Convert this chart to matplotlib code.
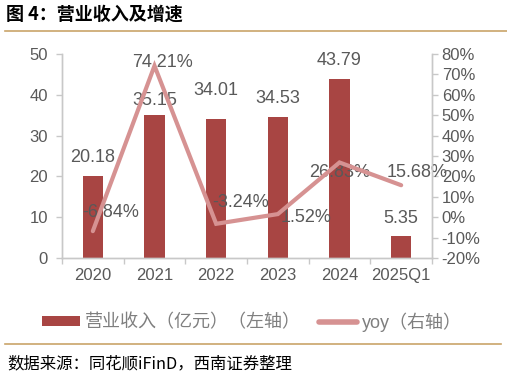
import matplotlib
matplotlib.use("Agg")
import matplotlib.pyplot as plt
from matplotlib.lines import Line2D
from matplotlib.patches import Patch

plt.rcParams['font.family'] = ['Liberation Sans', 'Noto Sans CJK SC', 'DejaVu Sans']

categories = ['2020', '2021', '2022', '2023', '2024', '2025Q1']
revenue = [20.18, 35.15, 34.01, 34.53, 43.79, 5.35]
yoy = [-6.84, 74.21, -3.24, 1.52, 26.83, 15.68]
left_ticks = [0, 10, 20, 30, 40, 50]
right_ticks = [-20, -10, 0, 10, 20, 30, 40, 50, 60, 70, 80]

# label offsets in pixels (dx, dy)
bar_label_off = [(0, 18), (0, 14), (0, 29), (0, 19), (0, 19), (0, 18)]
line_label_off = [(18, 19), (8, 3), (24, 21), (28, -3), (0, -10), (16, 13)]

BAR = '#A84543'
LINE = '#D69292'
TXT = '#595959'
SPINE = '#C8C8C8'

W, H = 507, 378
fig = plt.figure(figsize=(W / 100, H / 100), dpi=100)
ax = fig.add_axes([62 / W, 1 - 258 / H, (432 - 62) / W, (258 - 54) / H])
ax2 = ax.twinx()

x = list(range(len(categories)))
ax.bar(x, revenue, width=0.33, color=BAR, zorder=2)
ax.set_ylim(0, 50)
ax.set_xlim(-0.5, len(categories) - 0.5)
ax.set_yticks(left_ticks)
ax.set_xticks(x)
ax.set_xticklabels(categories)
ax.set_xticks([i - 0.5 for i in range(len(categories) + 1)], minor=True)

ax2.plot(x, yoy, color=LINE, lw=3, solid_capstyle='round', solid_joinstyle='miter', zorder=3)
ax2.set_ylim(-20, 80)
ax2.set_yticks(right_ticks)
ax2.set_yticklabels([f'{t}%' for t in right_ticks])

for a in (ax, ax2):
    a.spines['top'].set_visible(False)
    for s in ('left', 'right', 'bottom'):
        a.spines[s].set_color(SPINE)
        a.spines[s].set_linewidth(1)
    a.tick_params(colors=SPINE, labelcolor=TXT, labelsize=12, length=4, width=1)
ax.tick_params(axis='x', which='major', length=0, pad=7)
ax.tick_params(axis='x', which='minor', length=4, color=SPINE, width=1)
ax.tick_params(axis='y', pad=6)
ax2.tick_params(axis='y', pad=3)
ax.set_zorder(ax2.get_zorder() - 1)
ax2.patch.set_visible(False)

for i, v in enumerate(revenue):
    ax.annotate(f'{v:.2f}', (x[i], v), xytext=bar_label_off[i], textcoords='offset pixels',
                ha='center', va='center', fontsize=13, color=TXT, zorder=5)
for i, v in enumerate(yoy):
    ax2.annotate(f'{v:.2f}%', (x[i], v), xytext=line_label_off[i], textcoords='offset pixels',
                 ha='center', va='center', fontsize=13, color=TXT, zorder=2)

# title
fig.text(6 / W, 1 - 14 / H, '图 4：营业收入及增速', fontsize=13, fontweight='bold',
         family=['Noto Sans CJK SC', 'DejaVu Sans'], ha='left', va='center', color='black')
fig.add_artist(Line2D([5 / W, 1.0], [1 - 31 / H, 1 - 31 / H], color='#C9A46A', lw=1.2))

# legend
handles = [Patch(facecolor=BAR, edgecolor='none'),
           Line2D([0], [0], color=LINE, lw=4, solid_capstyle='round')]
labels = ['营业收入（亿元）（左轴）', 'yoy（右轴）']
leg = fig.legend(handles, labels, loc='center', bbox_to_anchor=(252 / W, 1 - 322 / H),
                 ncol=2, frameon=False, handlelength=2.1, handleheight=0.5,
                 columnspacing=1.0, handletextpad=0.3,
                 prop={'family': ['Liberation Sans', 'Noto Sans CJK SC'], 'size': 13})
for t in leg.get_texts():
    t.set_color('#7F7F7F')

fig.add_artist(Line2D([5 / W, 501 / W], [1 - 344 / H, 1 - 344 / H], color='#C9A46A', lw=1.2))
fig.text(7 / W, 1 - 364 / H, '数据来源：同花顺iFinD，西南证券整理', fontsize=11.8, style='italic',
         family=['Noto Sans CJK SC', 'DejaVu Sans'], ha='left', va='center', color='black')

fig.savefig('out.png', dpi=100)
